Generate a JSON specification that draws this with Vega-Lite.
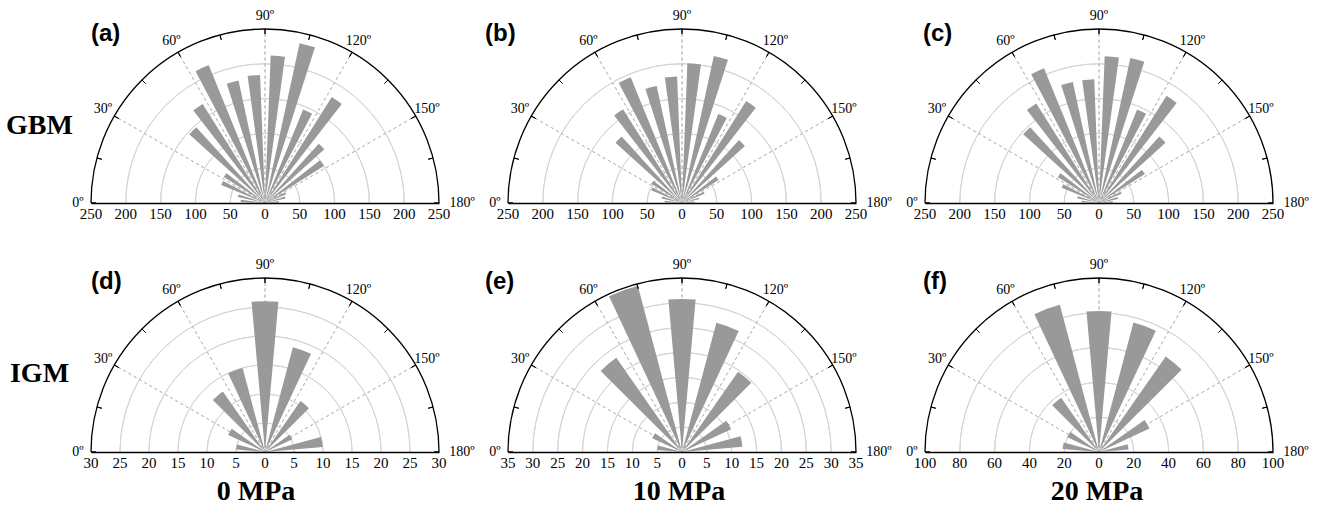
{
"$schema": "https://vega.github.io/schema/vega-lite/v6.json",
"background": "white",
"padding": {"left": 5, "top": 8, "right": 5, "bottom": 5},
"columns": 3,
"spacing": {"row": 75, "column": 69},
"bounds": "flush",
"concat": [
{"width":348,"height":174,
"layer":[
 {"data":{"values":[{"c":0}]},"mark":{"type":"point","opacity":0},
  "encoding":{"x":{"field":"c","type":"quantitative","scale":{"domain":[-250,250],"nice":false,"zero":false},"axis":{"title":null,"labels":false,"ticks":false,"grid":false,"domainColor":"black","domainWidth":1.3,"zindex":1}},
   "y":{"field":"c","type":"quantitative","scale":{"domain":[0,250],"nice":false},"axis":{"title":"GBM","titleX":-52,"titleY":96,"titleFont":"Liberation Serif","titleFontSize":28,"titleFontWeight":"bold","titleColor":"black","titleAngle":0,"titleAlign":"center","titleBaseline":"middle","domain":false,"labels":false,"ticks":false,"grid":false}}}},
 {"data":{"values":[{"r":50},{"r":100},{"r":150},{"r":200}]},
  "mark":{"type":"arc","filled":false,"stroke":"#d4d4d4","strokeWidth":1},
  "encoding":{"x":{"datum":0,"type":"quantitative"},"y":{"datum":0,"type":"quantitative"},"theta":{"datum":0,"type":"quantitative","stack":null,"scale":{"domain":[0,180],"range":[-1.5707963,1.5707963],"nice":false,"zero":false}},"theta2":{"datum":180},
   "radius":{"field":"r","type":"quantitative","scale":{"type":"linear","domain":[0,250],"range":[0,174],"nice":false,"zero":true}},"radius2":{"field":"r"}}},
 {"data":{"values":[{"s":30},{"s":60},{"s":90},{"s":120},{"s":150}]},
  "mark":{"type":"arc","filled":false,"stroke":"#bcbcbc","strokeWidth":1,"strokeDash":[3,3],"strokeDashOffset":1.5},
  "encoding":{"x":{"datum":0,"type":"quantitative"},"y":{"datum":0,"type":"quantitative"},"theta":{"field":"s","type":"quantitative","stack":null},"theta2":{"field":"s"},"radius":{"datum":250,"type":"quantitative"},"radius2":{"datum":0}}},
 {"data":{"values":[{"b0":0,"b1":10,"n":35},{"b0":10,"b1":20,"n":40},{"b0":20,"b1":30,"n":68},{"b0":30,"b1":40,"n":70},{"b0":40,"b1":50,"n":147},{"b0":50,"b1":60,"n":168},{"b0":60,"b1":70,"n":214},{"b0":70,"b1":80,"n":180},{"b0":80,"b1":90,"n":184},{"b0":90,"b1":100,"n":212},{"b0":100,"b1":110,"n":235},{"b0":110,"b1":120,"n":145},{"b0":120,"b1":130,"n":180},{"b0":130,"b1":140,"n":115},{"b0":140,"b1":150,"n":100},{"b0":150,"b1":160,"n":33},{"b0":160,"b1":170,"n":30},{"b0":170,"b1":180,"n":20}]},
  "mark":{"type":"arc","fill":"#999999","padAngle":0.077},
  "encoding":{"x":{"datum":0,"type":"quantitative"},"y":{"datum":0,"type":"quantitative"},"theta":{"field":"b0","type":"quantitative","stack":null},"theta2":{"field":"b1"},"radius":{"field":"n","type":"quantitative"}}},
 {"data":{"values":[{}]},
  "mark":{"type":"arc","filled":false,"stroke":"black","strokeWidth":1.3},
  "encoding":{"x":{"datum":0,"type":"quantitative"},"y":{"datum":0,"type":"quantitative"},"theta":{"datum":0,"type":"quantitative","stack":null},"theta2":{"datum":180},"radius":{"datum":250,"type":"quantitative"},"radius2":{"datum":250}}},
 {"data":{"values":[{"t":0},{"t":15},{"t":30},{"t":45},{"t":60},{"t":75},{"t":90},{"t":105},{"t":120},{"t":135},{"t":150},{"t":165},{"t":180}]},
  "mark":{"type":"arc","filled":false,"stroke":"black","strokeWidth":1},
  "encoding":{"x":{"datum":0,"type":"quantitative"},"y":{"datum":0,"type":"quantitative"},"theta":{"field":"t","type":"quantitative","stack":null},"theta2":{"field":"t"},"radius":{"datum":250,"type":"quantitative"},"radius2":{"datum":242.8}}},
 {"data":{"values":[{"deg":0,"lab":"0º"},{"deg":30,"lab":"30º"},{"deg":60,"lab":"60º"},{"deg":90,"lab":"90º"},{"deg":120,"lab":"120º"},{"deg":150,"lab":"150º"}]},
  "mark":{"type":"text","font":"Liberation Serif","fontSize":14,"fill":"black","align":"center","baseline":"middle"},
  "encoding":{"x":{"datum":0,"type":"quantitative"},"y":{"datum":0,"type":"quantitative"},"theta":{"field":"deg","type":"quantitative"},"radius":{"datum":268.7,"type":"quantitative"},"text":{"field":"lab"}}},
 {"data":{"values":[{"deg":180,"lab":"180º"}]},
  "mark":{"type":"text","font":"Liberation Serif","fontSize":14,"fill":"black","align":"center","baseline":"middle"},
  "encoding":{"x":{"datum":0,"type":"quantitative"},"y":{"datum":0,"type":"quantitative"},"theta":{"field":"deg","type":"quantitative"},"radius":{"datum":283.2,"type":"quantitative"},"text":{"field":"lab"}}},
 {"data":{"values":[{"lab":"(a)"}]},
  "mark":{"type":"text","font":"Liberation Sans","fontWeight":"bold","fontSize":24,"fill":"black","align":"left","baseline":"middle","dx":0,"dy":5},
  "encoding":{"x":{"datum":-250,"type":"quantitative"},"y":{"datum":250,"type":"quantitative"},"text":{"field":"lab"}}},
 {"data":{"values":[{"v":-250,"l":"250"},{"v":-200,"l":"200"},{"v":-150,"l":"150"},{"v":-100,"l":"100"},{"v":-50,"l":"50"},{"v":0,"l":"0"},{"v":50,"l":"50"},{"v":100,"l":"100"},{"v":150,"l":"150"},{"v":200,"l":"200"},{"v":250,"l":"250"}]},
  "mark":{"type":"text","font":"Liberation Serif","fontSize":15,"fill":"black","align":"center","baseline":"top","dy":4},
  "encoding":{"x":{"field":"v","type":"quantitative"},"y":{"datum":0,"type":"quantitative"},"text":{"field":"l"}}}
]},
{"width":348,"height":174,
"layer":[
 {"data":{"values":[{"c":0}]},"mark":{"type":"point","opacity":0},
  "encoding":{"x":{"field":"c","type":"quantitative","scale":{"domain":[-250,250],"nice":false,"zero":false},"axis":{"title":null,"labels":false,"ticks":false,"grid":false,"domainColor":"black","domainWidth":1.3,"zindex":1}},
   "y":{"field":"c","type":"quantitative","scale":{"domain":[0,250],"nice":false},"axis":{"title":null,"domain":false,"labels":false,"ticks":false,"grid":false}}}},
 {"data":{"values":[{"r":50},{"r":100},{"r":150},{"r":200}]},
  "mark":{"type":"arc","filled":false,"stroke":"#d4d4d4","strokeWidth":1},
  "encoding":{"x":{"datum":0,"type":"quantitative"},"y":{"datum":0,"type":"quantitative"},"theta":{"datum":0,"type":"quantitative","stack":null,"scale":{"domain":[0,180],"range":[-1.5707963,1.5707963],"nice":false,"zero":false}},"theta2":{"datum":180},
   "radius":{"field":"r","type":"quantitative","scale":{"type":"linear","domain":[0,250],"range":[0,174],"nice":false,"zero":true}},"radius2":{"field":"r"}}},
 {"data":{"values":[{"s":30},{"s":60},{"s":90},{"s":120},{"s":150}]},
  "mark":{"type":"arc","filled":false,"stroke":"#bcbcbc","strokeWidth":1,"strokeDash":[3,3],"strokeDashOffset":1.5},
  "encoding":{"x":{"datum":0,"type":"quantitative"},"y":{"datum":0,"type":"quantitative"},"theta":{"field":"s","type":"quantitative","stack":null},"theta2":{"field":"s"},"radius":{"datum":250,"type":"quantitative"},"radius2":{"datum":0}}},
 {"data":{"values":[{"b0":0,"b1":10,"n":25},{"b0":10,"b1":20,"n":30},{"b0":20,"b1":30,"n":48},{"b0":30,"b1":40,"n":52},{"b0":40,"b1":50,"n":129},{"b0":50,"b1":60,"n":159},{"b0":60,"b1":70,"n":195},{"b0":70,"b1":80,"n":172},{"b0":80,"b1":90,"n":182},{"b0":90,"b1":100,"n":201},{"b0":100,"b1":110,"n":216},{"b0":110,"b1":120,"n":138},{"b0":120,"b1":130,"n":173},{"b0":130,"b1":140,"n":122},{"b0":140,"b1":150,"n":62},{"b0":150,"b1":160,"n":35},{"b0":160,"b1":170,"n":25},{"b0":170,"b1":180,"n":18}]},
  "mark":{"type":"arc","fill":"#999999","padAngle":0.077},
  "encoding":{"x":{"datum":0,"type":"quantitative"},"y":{"datum":0,"type":"quantitative"},"theta":{"field":"b0","type":"quantitative","stack":null},"theta2":{"field":"b1"},"radius":{"field":"n","type":"quantitative"}}},
 {"data":{"values":[{}]},
  "mark":{"type":"arc","filled":false,"stroke":"black","strokeWidth":1.3},
  "encoding":{"x":{"datum":0,"type":"quantitative"},"y":{"datum":0,"type":"quantitative"},"theta":{"datum":0,"type":"quantitative","stack":null},"theta2":{"datum":180},"radius":{"datum":250,"type":"quantitative"},"radius2":{"datum":250}}},
 {"data":{"values":[{"t":0},{"t":15},{"t":30},{"t":45},{"t":60},{"t":75},{"t":90},{"t":105},{"t":120},{"t":135},{"t":150},{"t":165},{"t":180}]},
  "mark":{"type":"arc","filled":false,"stroke":"black","strokeWidth":1},
  "encoding":{"x":{"datum":0,"type":"quantitative"},"y":{"datum":0,"type":"quantitative"},"theta":{"field":"t","type":"quantitative","stack":null},"theta2":{"field":"t"},"radius":{"datum":250,"type":"quantitative"},"radius2":{"datum":242.8}}},
 {"data":{"values":[{"deg":0,"lab":"0º"},{"deg":30,"lab":"30º"},{"deg":60,"lab":"60º"},{"deg":90,"lab":"90º"},{"deg":120,"lab":"120º"},{"deg":150,"lab":"150º"}]},
  "mark":{"type":"text","font":"Liberation Serif","fontSize":14,"fill":"black","align":"center","baseline":"middle"},
  "encoding":{"x":{"datum":0,"type":"quantitative"},"y":{"datum":0,"type":"quantitative"},"theta":{"field":"deg","type":"quantitative"},"radius":{"datum":268.7,"type":"quantitative"},"text":{"field":"lab"}}},
 {"data":{"values":[{"deg":180,"lab":"180º"}]},
  "mark":{"type":"text","font":"Liberation Serif","fontSize":14,"fill":"black","align":"center","baseline":"middle"},
  "encoding":{"x":{"datum":0,"type":"quantitative"},"y":{"datum":0,"type":"quantitative"},"theta":{"field":"deg","type":"quantitative"},"radius":{"datum":283.2,"type":"quantitative"},"text":{"field":"lab"}}},
 {"data":{"values":[{"lab":"(b)"}]},
  "mark":{"type":"text","font":"Liberation Sans","fontWeight":"bold","fontSize":24,"fill":"black","align":"left","baseline":"middle","dx":-23,"dy":5},
  "encoding":{"x":{"datum":-250,"type":"quantitative"},"y":{"datum":250,"type":"quantitative"},"text":{"field":"lab"}}},
 {"data":{"values":[{"v":-250,"l":"250"},{"v":-200,"l":"200"},{"v":-150,"l":"150"},{"v":-100,"l":"100"},{"v":-50,"l":"50"},{"v":0,"l":"0"},{"v":50,"l":"50"},{"v":100,"l":"100"},{"v":150,"l":"150"},{"v":200,"l":"200"},{"v":250,"l":"250"}]},
  "mark":{"type":"text","font":"Liberation Serif","fontSize":15,"fill":"black","align":"center","baseline":"top","dy":4},
  "encoding":{"x":{"field":"v","type":"quantitative"},"y":{"datum":0,"type":"quantitative"},"text":{"field":"l"}}}
]},
{"width":348,"height":174,
"layer":[
 {"data":{"values":[{"c":0}]},"mark":{"type":"point","opacity":0},
  "encoding":{"x":{"field":"c","type":"quantitative","scale":{"domain":[-250,250],"nice":false,"zero":false},"axis":{"title":null,"labels":false,"ticks":false,"grid":false,"domainColor":"black","domainWidth":1.3,"zindex":1}},
   "y":{"field":"c","type":"quantitative","scale":{"domain":[0,250],"nice":false},"axis":{"title":null,"domain":false,"labels":false,"ticks":false,"grid":false}}}},
 {"data":{"values":[{"r":50},{"r":100},{"r":150},{"r":200}]},
  "mark":{"type":"arc","filled":false,"stroke":"#d4d4d4","strokeWidth":1},
  "encoding":{"x":{"datum":0,"type":"quantitative"},"y":{"datum":0,"type":"quantitative"},"theta":{"datum":0,"type":"quantitative","stack":null,"scale":{"domain":[0,180],"range":[-1.5707963,1.5707963],"nice":false,"zero":false}},"theta2":{"datum":180},
   "radius":{"field":"r","type":"quantitative","scale":{"type":"linear","domain":[0,250],"range":[0,174],"nice":false,"zero":true}},"radius2":{"field":"r"}}},
 {"data":{"values":[{"s":30},{"s":60},{"s":90},{"s":120},{"s":150}]},
  "mark":{"type":"arc","filled":false,"stroke":"#bcbcbc","strokeWidth":1,"strokeDash":[3,3],"strokeDashOffset":1.5},
  "encoding":{"x":{"datum":0,"type":"quantitative"},"y":{"datum":0,"type":"quantitative"},"theta":{"field":"s","type":"quantitative","stack":null},"theta2":{"field":"s"},"radius":{"datum":250,"type":"quantitative"},"radius2":{"datum":0}}},
 {"data":{"values":[{"b0":0,"b1":10,"n":25},{"b0":10,"b1":20,"n":32},{"b0":20,"b1":30,"n":58},{"b0":30,"b1":40,"n":70},{"b0":40,"b1":50,"n":147},{"b0":50,"b1":60,"n":169},{"b0":60,"b1":70,"n":209},{"b0":70,"b1":80,"n":178},{"b0":80,"b1":90,"n":178},{"b0":90,"b1":100,"n":211},{"b0":100,"b1":110,"n":213},{"b0":110,"b1":120,"n":145},{"b0":120,"b1":130,"n":182},{"b0":130,"b1":140,"n":129},{"b0":140,"b1":150,"n":78},{"b0":150,"b1":160,"n":35},{"b0":160,"b1":170,"n":28},{"b0":170,"b1":180,"n":20}]},
  "mark":{"type":"arc","fill":"#999999","padAngle":0.077},
  "encoding":{"x":{"datum":0,"type":"quantitative"},"y":{"datum":0,"type":"quantitative"},"theta":{"field":"b0","type":"quantitative","stack":null},"theta2":{"field":"b1"},"radius":{"field":"n","type":"quantitative"}}},
 {"data":{"values":[{}]},
  "mark":{"type":"arc","filled":false,"stroke":"black","strokeWidth":1.3},
  "encoding":{"x":{"datum":0,"type":"quantitative"},"y":{"datum":0,"type":"quantitative"},"theta":{"datum":0,"type":"quantitative","stack":null},"theta2":{"datum":180},"radius":{"datum":250,"type":"quantitative"},"radius2":{"datum":250}}},
 {"data":{"values":[{"t":0},{"t":15},{"t":30},{"t":45},{"t":60},{"t":75},{"t":90},{"t":105},{"t":120},{"t":135},{"t":150},{"t":165},{"t":180}]},
  "mark":{"type":"arc","filled":false,"stroke":"black","strokeWidth":1},
  "encoding":{"x":{"datum":0,"type":"quantitative"},"y":{"datum":0,"type":"quantitative"},"theta":{"field":"t","type":"quantitative","stack":null},"theta2":{"field":"t"},"radius":{"datum":250,"type":"quantitative"},"radius2":{"datum":242.8}}},
 {"data":{"values":[{"deg":0,"lab":"0º"},{"deg":30,"lab":"30º"},{"deg":60,"lab":"60º"},{"deg":90,"lab":"90º"},{"deg":120,"lab":"120º"},{"deg":150,"lab":"150º"}]},
  "mark":{"type":"text","font":"Liberation Serif","fontSize":14,"fill":"black","align":"center","baseline":"middle"},
  "encoding":{"x":{"datum":0,"type":"quantitative"},"y":{"datum":0,"type":"quantitative"},"theta":{"field":"deg","type":"quantitative"},"radius":{"datum":268.7,"type":"quantitative"},"text":{"field":"lab"}}},
 {"data":{"values":[{"deg":180,"lab":"180º"}]},
  "mark":{"type":"text","font":"Liberation Serif","fontSize":14,"fill":"black","align":"center","baseline":"middle"},
  "encoding":{"x":{"datum":0,"type":"quantitative"},"y":{"datum":0,"type":"quantitative"},"theta":{"field":"deg","type":"quantitative"},"radius":{"datum":283.2,"type":"quantitative"},"text":{"field":"lab"}}},
 {"data":{"values":[{"lab":"(c)"}]},
  "mark":{"type":"text","font":"Liberation Sans","fontWeight":"bold","fontSize":24,"fill":"black","align":"left","baseline":"middle","dx":-2,"dy":5},
  "encoding":{"x":{"datum":-250,"type":"quantitative"},"y":{"datum":250,"type":"quantitative"},"text":{"field":"lab"}}},
 {"data":{"values":[{"v":-250,"l":"250"},{"v":-200,"l":"200"},{"v":-150,"l":"150"},{"v":-100,"l":"100"},{"v":-50,"l":"50"},{"v":0,"l":"0"},{"v":50,"l":"50"},{"v":100,"l":"100"},{"v":150,"l":"150"},{"v":200,"l":"200"},{"v":250,"l":"250"}]},
  "mark":{"type":"text","font":"Liberation Serif","fontSize":15,"fill":"black","align":"center","baseline":"top","dy":4},
  "encoding":{"x":{"field":"v","type":"quantitative"},"y":{"datum":0,"type":"quantitative"},"text":{"field":"l"}}}
]},
{"width":348,"height":174,
"layer":[
 {"data":{"values":[{"c":0}]},"mark":{"type":"point","opacity":0},
  "encoding":{"x":{"field":"c","type":"quantitative","scale":{"domain":[-30,30],"nice":false,"zero":false},"axis":{"title":null,"labels":false,"ticks":false,"grid":false,"domainColor":"black","domainWidth":1.3,"zindex":1}},
   "y":{"field":"c","type":"quantitative","scale":{"domain":[0,30],"nice":false},"axis":{"title":"IGM","titleX":-52,"titleY":95,"titleFont":"Liberation Serif","titleFontSize":28,"titleFontWeight":"bold","titleColor":"black","titleAngle":0,"titleAlign":"center","titleBaseline":"middle","domain":false,"labels":false,"ticks":false,"grid":false}}}},
 {"data":{"values":[{"r":5},{"r":10},{"r":15},{"r":20},{"r":25}]},
  "mark":{"type":"arc","filled":false,"stroke":"#d4d4d4","strokeWidth":1},
  "encoding":{"x":{"datum":0,"type":"quantitative"},"y":{"datum":0,"type":"quantitative"},"theta":{"datum":0,"type":"quantitative","stack":null,"scale":{"domain":[0,180],"range":[-1.5707963,1.5707963],"nice":false,"zero":false}},"theta2":{"datum":180},
   "radius":{"field":"r","type":"quantitative","scale":{"type":"linear","domain":[0,30],"range":[0,174],"nice":false,"zero":true}},"radius2":{"field":"r"}}},
 {"data":{"values":[{"s":30},{"s":60},{"s":90},{"s":120},{"s":150}]},
  "mark":{"type":"arc","filled":false,"stroke":"#bcbcbc","strokeWidth":1,"strokeDash":[3,3],"strokeDashOffset":1.5},
  "encoding":{"x":{"datum":0,"type":"quantitative"},"y":{"datum":0,"type":"quantitative"},"theta":{"field":"s","type":"quantitative","stack":null},"theta2":{"field":"s"},"radius":{"datum":30,"type":"quantitative"},"radius2":{"datum":0}}},
 {"data":{"values":[{"b0":0,"b1":20,"n":5},{"b0":20,"b1":40,"n":7},{"b0":40,"b1":60,"n":12.7},{"b0":60,"b1":80,"n":15},{"b0":80,"b1":100,"n":26},{"b0":100,"b1":120,"n":18.7},{"b0":120,"b1":140,"n":10.7},{"b0":140,"b1":160,"n":5.2},{"b0":160,"b1":180,"n":10}]},
  "mark":{"type":"arc","fill":"#999999","padAngle":0.171},
  "encoding":{"x":{"datum":0,"type":"quantitative"},"y":{"datum":0,"type":"quantitative"},"theta":{"field":"b0","type":"quantitative","stack":null},"theta2":{"field":"b1"},"radius":{"field":"n","type":"quantitative"}}},
 {"data":{"values":[{}]},
  "mark":{"type":"arc","filled":false,"stroke":"black","strokeWidth":1.3},
  "encoding":{"x":{"datum":0,"type":"quantitative"},"y":{"datum":0,"type":"quantitative"},"theta":{"datum":0,"type":"quantitative","stack":null},"theta2":{"datum":180},"radius":{"datum":30,"type":"quantitative"},"radius2":{"datum":30}}},
 {"data":{"values":[{"t":0},{"t":15},{"t":30},{"t":45},{"t":60},{"t":75},{"t":90},{"t":105},{"t":120},{"t":135},{"t":150},{"t":165},{"t":180}]},
  "mark":{"type":"arc","filled":false,"stroke":"black","strokeWidth":1},
  "encoding":{"x":{"datum":0,"type":"quantitative"},"y":{"datum":0,"type":"quantitative"},"theta":{"field":"t","type":"quantitative","stack":null},"theta2":{"field":"t"},"radius":{"datum":30,"type":"quantitative"},"radius2":{"datum":29.14}}},
 {"data":{"values":[{"deg":0,"lab":"0º"},{"deg":30,"lab":"30º"},{"deg":60,"lab":"60º"},{"deg":90,"lab":"90º"},{"deg":120,"lab":"120º"},{"deg":150,"lab":"150º"}]},
  "mark":{"type":"text","font":"Liberation Serif","fontSize":14,"fill":"black","align":"center","baseline":"middle"},
  "encoding":{"x":{"datum":0,"type":"quantitative"},"y":{"datum":0,"type":"quantitative"},"theta":{"field":"deg","type":"quantitative"},"radius":{"datum":32.24,"type":"quantitative"},"text":{"field":"lab"}}},
 {"data":{"values":[{"deg":180,"lab":"180º"}]},
  "mark":{"type":"text","font":"Liberation Serif","fontSize":14,"fill":"black","align":"center","baseline":"middle"},
  "encoding":{"x":{"datum":0,"type":"quantitative"},"y":{"datum":0,"type":"quantitative"},"theta":{"field":"deg","type":"quantitative"},"radius":{"datum":33.97,"type":"quantitative"},"text":{"field":"lab"}}},
 {"data":{"values":[{"lab":"(d)"}]},
  "mark":{"type":"text","font":"Liberation Sans","fontWeight":"bold","fontSize":24,"fill":"black","align":"left","baseline":"middle","dx":0,"dy":4},
  "encoding":{"x":{"datum":-30,"type":"quantitative"},"y":{"datum":30,"type":"quantitative"},"text":{"field":"lab"}}},
 {"data":{"values":[{"v":-30,"l":"30"},{"v":-25,"l":"25"},{"v":-20,"l":"20"},{"v":-15,"l":"15"},{"v":-10,"l":"10"},{"v":-5,"l":"5"},{"v":0,"l":"0"},{"v":5,"l":"5"},{"v":10,"l":"10"},{"v":15,"l":"15"},{"v":20,"l":"20"},{"v":25,"l":"25"},{"v":30,"l":"30"}]},
  "mark":{"type":"text","font":"Liberation Serif","fontSize":15,"fill":"black","align":"center","baseline":"top","dy":4},
  "encoding":{"x":{"field":"v","type":"quantitative"},"y":{"datum":0,"type":"quantitative"},"text":{"field":"l"}}},
 {"data":{"values":[{"lab":"0 MPa"}]},
  "mark":{"type":"text","font":"Liberation Serif","fontWeight":"bold","fontSize":28,"fill":"black","align":"center","baseline":"middle","dx":-9,"dy":40},
  "encoding":{"x":{"datum":0,"type":"quantitative"},"y":{"datum":0,"type":"quantitative"},"text":{"field":"lab"}}}
]},
{"width":348,"height":174,
"layer":[
 {"data":{"values":[{"c":0}]},"mark":{"type":"point","opacity":0},
  "encoding":{"x":{"field":"c","type":"quantitative","scale":{"domain":[-35,35],"nice":false,"zero":false},"axis":{"title":null,"labels":false,"ticks":false,"grid":false,"domainColor":"black","domainWidth":1.3,"zindex":1}},
   "y":{"field":"c","type":"quantitative","scale":{"domain":[0,35],"nice":false},"axis":{"title":null,"domain":false,"labels":false,"ticks":false,"grid":false}}}},
 {"data":{"values":[{"r":5},{"r":10},{"r":15},{"r":20},{"r":25},{"r":30}]},
  "mark":{"type":"arc","filled":false,"stroke":"#d4d4d4","strokeWidth":1},
  "encoding":{"x":{"datum":0,"type":"quantitative"},"y":{"datum":0,"type":"quantitative"},"theta":{"datum":0,"type":"quantitative","stack":null,"scale":{"domain":[0,180],"range":[-1.5707963,1.5707963],"nice":false,"zero":false}},"theta2":{"datum":180},
   "radius":{"field":"r","type":"quantitative","scale":{"type":"linear","domain":[0,35],"range":[0,174],"nice":false,"zero":true}},"radius2":{"field":"r"}}},
 {"data":{"values":[{"s":30},{"s":60},{"s":90},{"s":120},{"s":150}]},
  "mark":{"type":"arc","filled":false,"stroke":"#bcbcbc","strokeWidth":1,"strokeDash":[3,3],"strokeDashOffset":1.5},
  "encoding":{"x":{"datum":0,"type":"quantitative"},"y":{"datum":0,"type":"quantitative"},"theta":{"field":"s","type":"quantitative","stack":null},"theta2":{"field":"s"},"radius":{"datum":35,"type":"quantitative"},"radius2":{"datum":0}}},
 {"data":{"values":[{"b0":0,"b1":20,"n":5},{"b0":20,"b1":40,"n":6.6},{"b0":40,"b1":60,"n":23.1},{"b0":60,"b1":80,"n":34.6},{"b0":80,"b1":100,"n":30.8},{"b0":100,"b1":120,"n":26.9},{"b0":120,"b1":140,"n":19.7},{"b0":140,"b1":160,"n":10.9},{"b0":160,"b1":180,"n":12.2}]},
  "mark":{"type":"arc","fill":"#999999","padAngle":0.171},
  "encoding":{"x":{"datum":0,"type":"quantitative"},"y":{"datum":0,"type":"quantitative"},"theta":{"field":"b0","type":"quantitative","stack":null},"theta2":{"field":"b1"},"radius":{"field":"n","type":"quantitative"}}},
 {"data":{"values":[{}]},
  "mark":{"type":"arc","filled":false,"stroke":"black","strokeWidth":1.3},
  "encoding":{"x":{"datum":0,"type":"quantitative"},"y":{"datum":0,"type":"quantitative"},"theta":{"datum":0,"type":"quantitative","stack":null},"theta2":{"datum":180},"radius":{"datum":35,"type":"quantitative"},"radius2":{"datum":35}}},
 {"data":{"values":[{"t":0},{"t":15},{"t":30},{"t":45},{"t":60},{"t":75},{"t":90},{"t":105},{"t":120},{"t":135},{"t":150},{"t":165},{"t":180}]},
  "mark":{"type":"arc","filled":false,"stroke":"black","strokeWidth":1},
  "encoding":{"x":{"datum":0,"type":"quantitative"},"y":{"datum":0,"type":"quantitative"},"theta":{"field":"t","type":"quantitative","stack":null},"theta2":{"field":"t"},"radius":{"datum":35,"type":"quantitative"},"radius2":{"datum":33.99}}},
 {"data":{"values":[{"deg":0,"lab":"0º"},{"deg":30,"lab":"30º"},{"deg":60,"lab":"60º"},{"deg":90,"lab":"90º"},{"deg":120,"lab":"120º"},{"deg":150,"lab":"150º"}]},
  "mark":{"type":"text","font":"Liberation Serif","fontSize":14,"fill":"black","align":"center","baseline":"middle"},
  "encoding":{"x":{"datum":0,"type":"quantitative"},"y":{"datum":0,"type":"quantitative"},"theta":{"field":"deg","type":"quantitative"},"radius":{"datum":37.61,"type":"quantitative"},"text":{"field":"lab"}}},
 {"data":{"values":[{"deg":180,"lab":"180º"}]},
  "mark":{"type":"text","font":"Liberation Serif","fontSize":14,"fill":"black","align":"center","baseline":"middle"},
  "encoding":{"x":{"datum":0,"type":"quantitative"},"y":{"datum":0,"type":"quantitative"},"theta":{"field":"deg","type":"quantitative"},"radius":{"datum":39.63,"type":"quantitative"},"text":{"field":"lab"}}},
 {"data":{"values":[{"lab":"(e)"}]},
  "mark":{"type":"text","font":"Liberation Sans","fontWeight":"bold","fontSize":24,"fill":"black","align":"left","baseline":"middle","dx":-23,"dy":4},
  "encoding":{"x":{"datum":-35,"type":"quantitative"},"y":{"datum":35,"type":"quantitative"},"text":{"field":"lab"}}},
 {"data":{"values":[{"v":-35,"l":"35"},{"v":-30,"l":"30"},{"v":-25,"l":"25"},{"v":-20,"l":"20"},{"v":-15,"l":"15"},{"v":-10,"l":"10"},{"v":-5,"l":"5"},{"v":0,"l":"0"},{"v":5,"l":"5"},{"v":10,"l":"10"},{"v":15,"l":"15"},{"v":20,"l":"20"},{"v":25,"l":"25"},{"v":30,"l":"30"},{"v":35,"l":"35"}]},
  "mark":{"type":"text","font":"Liberation Serif","fontSize":15,"fill":"black","align":"center","baseline":"top","dy":4},
  "encoding":{"x":{"field":"v","type":"quantitative"},"y":{"datum":0,"type":"quantitative"},"text":{"field":"l"}}},
 {"data":{"values":[{"lab":"10 MPa"}]},
  "mark":{"type":"text","font":"Liberation Serif","fontWeight":"bold","fontSize":28,"fill":"black","align":"center","baseline":"middle","dx":-3,"dy":40},
  "encoding":{"x":{"datum":0,"type":"quantitative"},"y":{"datum":0,"type":"quantitative"},"text":{"field":"lab"}}}
]},
{"width":348,"height":174,
"layer":[
 {"data":{"values":[{"c":0}]},"mark":{"type":"point","opacity":0},
  "encoding":{"x":{"field":"c","type":"quantitative","scale":{"domain":[-100,100],"nice":false,"zero":false},"axis":{"title":null,"labels":false,"ticks":false,"grid":false,"domainColor":"black","domainWidth":1.3,"zindex":1}},
   "y":{"field":"c","type":"quantitative","scale":{"domain":[0,100],"nice":false},"axis":{"title":null,"domain":false,"labels":false,"ticks":false,"grid":false}}}},
 {"data":{"values":[{"r":20},{"r":40},{"r":60},{"r":80}]},
  "mark":{"type":"arc","filled":false,"stroke":"#d4d4d4","strokeWidth":1},
  "encoding":{"x":{"datum":0,"type":"quantitative"},"y":{"datum":0,"type":"quantitative"},"theta":{"datum":0,"type":"quantitative","stack":null,"scale":{"domain":[0,180],"range":[-1.5707963,1.5707963],"nice":false,"zero":false}},"theta2":{"datum":180},
   "radius":{"field":"r","type":"quantitative","scale":{"type":"linear","domain":[0,100],"range":[0,174],"nice":false,"zero":true}},"radius2":{"field":"r"}}},
 {"data":{"values":[{"s":30},{"s":60},{"s":90},{"s":120},{"s":150}]},
  "mark":{"type":"arc","filled":false,"stroke":"#bcbcbc","strokeWidth":1,"strokeDash":[3,3],"strokeDashOffset":1.5},
  "encoding":{"x":{"datum":0,"type":"quantitative"},"y":{"datum":0,"type":"quantitative"},"theta":{"field":"s","type":"quantitative","stack":null},"theta2":{"field":"s"},"radius":{"datum":100,"type":"quantitative"},"radius2":{"datum":0}}},
 {"data":{"values":[{"b0":0,"b1":20,"n":21},{"b0":20,"b1":40,"n":20},{"b0":40,"b1":60,"n":38},{"b0":60,"b1":80,"n":87.5},{"b0":80,"b1":100,"n":81},{"b0":100,"b1":120,"n":77},{"b0":120,"b1":140,"n":67},{"b0":140,"b1":160,"n":32},{"b0":160,"b1":180,"n":17}]},
  "mark":{"type":"arc","fill":"#999999","padAngle":0.171},
  "encoding":{"x":{"datum":0,"type":"quantitative"},"y":{"datum":0,"type":"quantitative"},"theta":{"field":"b0","type":"quantitative","stack":null},"theta2":{"field":"b1"},"radius":{"field":"n","type":"quantitative"}}},
 {"data":{"values":[{}]},
  "mark":{"type":"arc","filled":false,"stroke":"black","strokeWidth":1.3},
  "encoding":{"x":{"datum":0,"type":"quantitative"},"y":{"datum":0,"type":"quantitative"},"theta":{"datum":0,"type":"quantitative","stack":null},"theta2":{"datum":180},"radius":{"datum":100,"type":"quantitative"},"radius2":{"datum":100}}},
 {"data":{"values":[{"t":0},{"t":15},{"t":30},{"t":45},{"t":60},{"t":75},{"t":90},{"t":105},{"t":120},{"t":135},{"t":150},{"t":165},{"t":180}]},
  "mark":{"type":"arc","filled":false,"stroke":"black","strokeWidth":1},
  "encoding":{"x":{"datum":0,"type":"quantitative"},"y":{"datum":0,"type":"quantitative"},"theta":{"field":"t","type":"quantitative","stack":null},"theta2":{"field":"t"},"radius":{"datum":100,"type":"quantitative"},"radius2":{"datum":97.13}}},
 {"data":{"values":[{"deg":0,"lab":"0º"},{"deg":30,"lab":"30º"},{"deg":60,"lab":"60º"},{"deg":90,"lab":"90º"},{"deg":120,"lab":"120º"},{"deg":150,"lab":"150º"}]},
  "mark":{"type":"text","font":"Liberation Serif","fontSize":14,"fill":"black","align":"center","baseline":"middle"},
  "encoding":{"x":{"datum":0,"type":"quantitative"},"y":{"datum":0,"type":"quantitative"},"theta":{"field":"deg","type":"quantitative"},"radius":{"datum":107.47,"type":"quantitative"},"text":{"field":"lab"}}},
 {"data":{"values":[{"deg":180,"lab":"180º"}]},
  "mark":{"type":"text","font":"Liberation Serif","fontSize":14,"fill":"black","align":"center","baseline":"middle"},
  "encoding":{"x":{"datum":0,"type":"quantitative"},"y":{"datum":0,"type":"quantitative"},"theta":{"field":"deg","type":"quantitative"},"radius":{"datum":113.2,"type":"quantitative"},"text":{"field":"lab"}}},
 {"data":{"values":[{"lab":"(f)"}]},
  "mark":{"type":"text","font":"Liberation Sans","fontWeight":"bold","fontSize":24,"fill":"black","align":"left","baseline":"middle","dx":-2,"dy":4},
  "encoding":{"x":{"datum":-100,"type":"quantitative"},"y":{"datum":100,"type":"quantitative"},"text":{"field":"lab"}}},
 {"data":{"values":[{"v":-100,"l":"100"},{"v":-80,"l":"80"},{"v":-60,"l":"60"},{"v":-40,"l":"40"},{"v":-20,"l":"20"},{"v":0,"l":"0"},{"v":20,"l":"20"},{"v":40,"l":"40"},{"v":60,"l":"60"},{"v":80,"l":"80"},{"v":100,"l":"100"}]},
  "mark":{"type":"text","font":"Liberation Serif","fontSize":15,"fill":"black","align":"center","baseline":"top","dy":4},
  "encoding":{"x":{"field":"v","type":"quantitative"},"y":{"datum":0,"type":"quantitative"},"text":{"field":"l"}}},
 {"data":{"values":[{"lab":"20 MPa"}]},
  "mark":{"type":"text","font":"Liberation Serif","fontWeight":"bold","fontSize":28,"fill":"black","align":"center","baseline":"middle","dx":-2,"dy":40},
  "encoding":{"x":{"datum":0,"type":"quantitative"},"y":{"datum":0,"type":"quantitative"},"text":{"field":"lab"}}}
]}
],
"config": {
 "view": {"stroke": null}
}
}
